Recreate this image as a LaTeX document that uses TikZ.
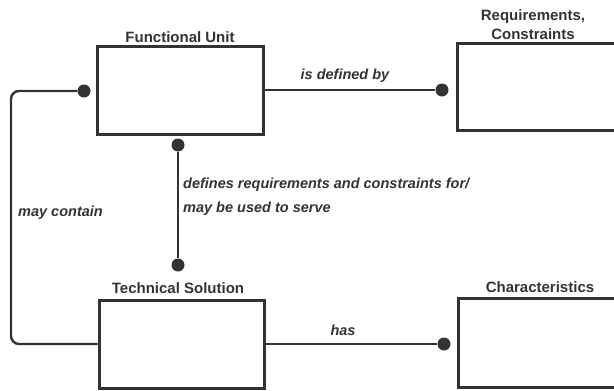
\documentclass[tikz,border=0pt]{standalone}
\usepackage{fontspec}
\setmainfont{Liberation Sans}
\usetikzlibrary{calc}

\definecolor{ink}{gray}{0.2}

\begin{document}
\begin{tikzpicture}[x=1pt,y=-1pt,
    box/.style={draw=ink,line width=3pt,rectangle,inner sep=0pt},
    dot/.style={circle,fill=ink,minimum size=13pt,inner sep=0pt},
    wire/.style={draw=ink,line width=2.4pt},
    title/.style={font=\fontsize{15}{17}\selectfont\bfseries,text=ink,inner sep=0pt},
    verb/.style={font=\fontsize{14.5}{24}\selectfont\bfseries\itshape,text=ink,inner sep=0pt}]
  % Frame
  \useasboundingbox (0,0) rectangle (614,391);
  \clip (0,0) rectangle (614,391);
  % Boxes
  \node[box,minimum width=166pt,minimum height=88pt] (fu) at (180,90) {};
  \node[box,minimum width=170pt,minimum height=87pt] (req) at (542,86.5) {};
  \node[box,minimum width=165pt,minimum height=88pt] (ts) at (181.5,344) {};
  \node[box,minimum width=170pt,minimum height=89pt] (ch) at (543,342.5) {};
  % Titles
  \node[title,anchor=base] (fuT) at (180,42) {Functional Unit};
  \node[title,anchor=base] (reqT) at (533,20) {Requirements,};
  \node[title,anchor=base] (reqT2) at (533,39) {Constraints};
  \node[title,anchor=base] (tsT) at (178,293) {Technical Solution};
  \node[title,anchor=base] (chT) at (540,292) {Characteristics};
  % Dots
  \node[dot] (fuL) at (84,91) {};
  \node[dot] (fuB) at (178,145) {};
  \node[dot] (tsU) at (178,265) {};
  \node[dot] (reqL) at (442,90) {};
  \node[dot] (chL) at (444,344) {};
  \coordinate (lc) at (11,216);
  % Connectors
  \draw[wire] (fu.east) -- (reqL);
  \draw[wire] (ts.east) -- (chL);
  \draw[wire] (fuB) -- (tsU);
  \draw[wire,rounded corners=8pt] (fuL) -| (lc) |- (ts.west);
  % Connector labels
  \node[verb,anchor=base] (l1) at (345,79) {is defined by};
  \node[verb,anchor=base] (l2) at (343,335) {has};
  \node[verb,anchor=base west] (l3) at (18,216) {may contain};
  \node[verb,anchor=north west,align=left] (l4) at (183,178) {defines requirements and constraints for/\\may be used to serve};
\end{tikzpicture}
\end{document}
